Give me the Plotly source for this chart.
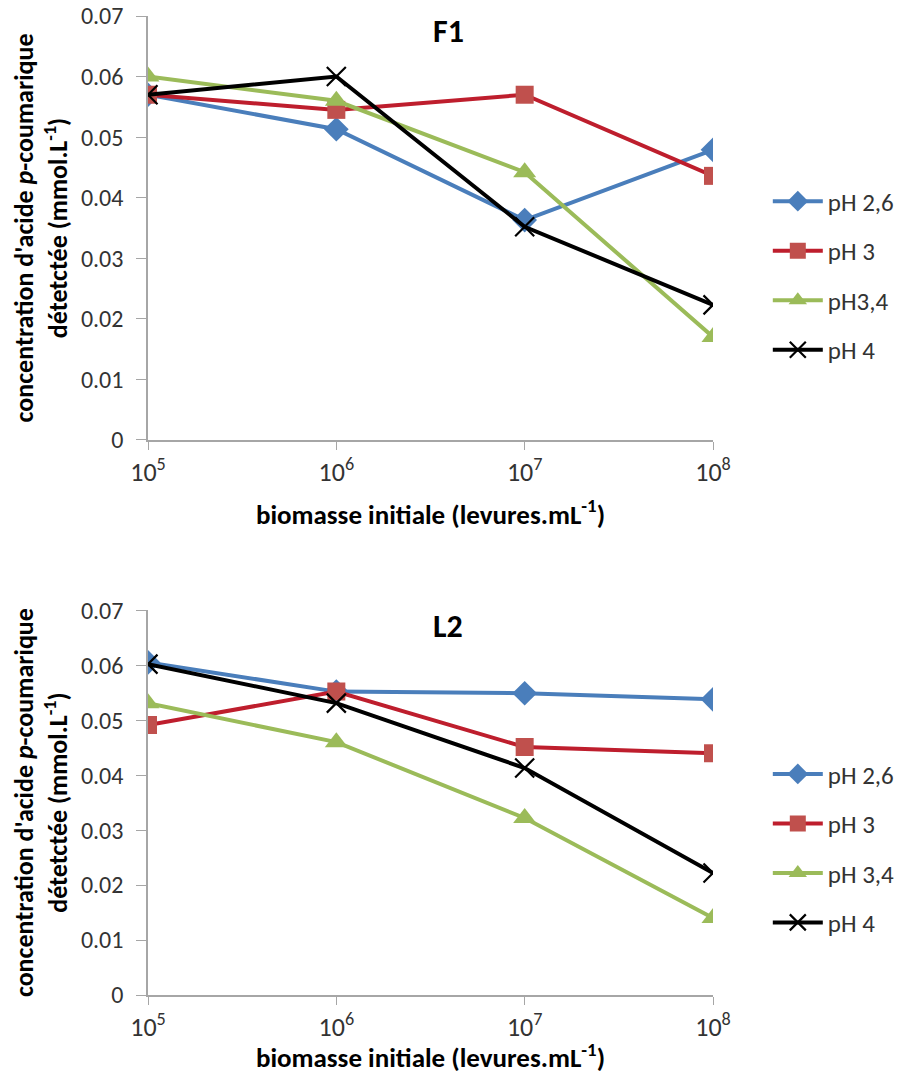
import plotly.graph_objects as go
from plotly.subplots import make_subplots

# Data
biomass = [1e5, 1e6, 1e7, 1e8]

f1_ph26 = [0.057, 0.0513, 0.0363, 0.0479]
f1_ph3 = [0.057, 0.0545, 0.057, 0.0436]
f1_ph34 = [0.060, 0.056, 0.0442, 0.017]
f1_ph4 = [0.057, 0.060, 0.0352, 0.0223]

l2_ph26 = [0.0605, 0.0552, 0.0549, 0.0538]
l2_ph3 = [0.0491, 0.0552, 0.0451, 0.0440]
l2_ph34 = [0.0531, 0.046, 0.0322, 0.014]
l2_ph4 = [0.0602, 0.0531, 0.0413, 0.0222]

f1_names = ["pH 2,6", "pH 3", "pH3,4", "pH 4"]
l2_names = ["pH 2,6", "pH 3", "pH 3,4", "pH 4"]

y_ticks = [0, 0.01, 0.02, 0.03, 0.04, 0.05, 0.06, 0.07]
y_ticktext = ["0", "0.01", "0.02", "0.03", "0.04", "0.05", "0.06", "0.07"]
x_ticktext = ["10<sup>5</sup>", "10<sup>6</sup>", "10<sup>7</sup>", "10<sup>8</sup>"]

font_family = "Carlito, Open Sans, Liberation Sans, sans-serif"
axis_gray = "#a6a6a6"
label_color = "#333333"

styles = [
    dict(line_color="#4A7EBB", marker=dict(symbol="diamond", size=19, color="#4A7EBB")),
    dict(line_color="#BE1E2D", marker=dict(symbol="square", size=18, color="#C0504D")),
    dict(line_color="#9BBB59", marker=dict(symbol="triangle-up", size=20, color="#9BBB59")),
    dict(line_color="#000000", marker=dict(symbol="x-thin-open", size=19,
                                           color="#000000", line=dict(width=2.2, color="#000000"))),
]

fig = make_subplots(rows=2, cols=1)

for row, series, names, legend in [
    (1, [f1_ph26, f1_ph3, f1_ph34, f1_ph4], f1_names, "legend"),
    (2, [l2_ph26, l2_ph3, l2_ph34, l2_ph4], l2_names, "legend2"),
]:
    for i, (vals, name) in enumerate(zip(series, names)):
        st = styles[i]
        fig.add_trace(
            go.Scatter(
                x=biomass,
                y=vals,
                mode="lines+markers",
                name=name,
                line=dict(color=st["line_color"], width=4),
                marker=st["marker"],
                legend=legend,
                legendgroup=f"{legend}_{i}",
            ),
            row=row, col=1,
        )

x_title = "<b>biomasse initiale (levures.mL<sup>-1</sup>)</b>"
y_title = "<b>concentration d'acide <i>p</i>-coumarique<br>détetctée (mmol.L<sup>-1</sup>)</b>"

fig.update_xaxes(
    type="log",
    range=[5, 8],
    tickvals=biomass,
    ticktext=x_ticktext,
    showgrid=False,
    zeroline=False,
    showline=True,
    linecolor=axis_gray,
    linewidth=1.5,
    ticks="outside",
    ticklen=8,
    tickcolor=axis_gray,
    tickfont=dict(size=26, color=label_color),
    ticklabeloverflow="allow",
    automargin=False,
)
fig.update_yaxes(
    range=[0, 0.07],
    tickvals=y_ticks,
    ticktext=y_ticktext,
    showgrid=False,
    zeroline=False,
    showline=True,
    linecolor=axis_gray,
    linewidth=1.5,
    ticks="outside",
    ticklen=10,
    tickcolor=axis_gray,
    tickfont=dict(size=24, color=label_color),
    ticklabelstandoff=8,
    ticklabeloverflow="allow",
    automargin=False,
    title=dict(text=y_title, font=dict(size=26, color="#000000"), standoff=10),
)

fig.update_layout(
    xaxis=dict(domain=[0, 1],
               title=dict(text=x_title, font=dict(size=27, color="#000000"), standoff=18)),
    yaxis=dict(domain=[0.567, 1.0]),
    xaxis2=dict(domain=[0, 1],
                title=dict(text=x_title, font=dict(size=27, color="#000000"), standoff=14)),
    yaxis2=dict(domain=[0.0, 0.393]),
)

# page body keeps an 8px margin, so the figure is 16px smaller than the window
fig.update_layout(
    width=889,
    height=1066,
    margin=dict(l=140, r=184, t=8, b=79, autoexpand=False),
    paper_bgcolor="white",
    plot_bgcolor="white",
    font=dict(family=font_family, color="#000000"),
    legend=dict(x=1.097, y=0.735, xanchor="left", yanchor="middle",
                font=dict(size=25, color=label_color), tracegroupgap=14,
                itemwidth=50),
    legend2=dict(x=1.097, y=0.150, xanchor="left", yanchor="middle",
                 font=dict(size=25, color=label_color), tracegroupgap=14,
                 itemwidth=50),
    annotations=[
        dict(text="<b>F1</b>", x=0.531, y=0.9837, xref="paper", yref="paper",
             xanchor="center", yanchor="middle",
             showarrow=False, font=dict(size=32, color="#000000")),
        dict(text="<b>L2</b>", x=0.531, y=0.376, xref="paper", yref="paper",
             xanchor="center", yanchor="middle",
             showarrow=False, font=dict(size=32, color="#000000")),
    ],
)

fig.write_html("out.html")
